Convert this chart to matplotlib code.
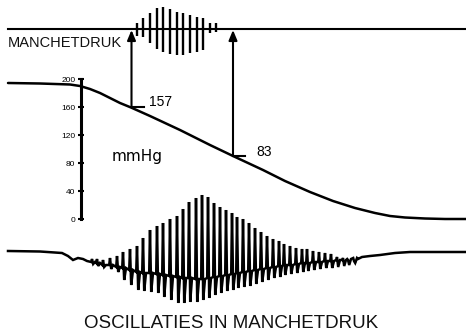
import matplotlib.pyplot as plt

# everything is in picture units: x to the right, y downwards (0..466, 0..331)

# cuff pressure line and the small oscillations drawn on it
cuff_y = 29
cuff_x = [8, 466]
cuff_osc_x = [137, 143, 150, 157, 163, 170, 177, 183, 190, 197, 203, 210, 216]
cuff_osc_hi = [23, 18, 13, 8, 7, 9, 12, 13, 15, 17, 18, 23, 23]
cuff_osc_lo = [36, 37, 43, 49, 52, 54, 55, 55, 53, 52, 50, 33, 32]

# falling cuff pressure curve
pressure_x = [8, 40, 70, 80, 90, 100, 110, 120, 131, 150, 180, 210, 233, 263, 285,
              310, 333, 355, 375, 390, 405, 425, 445, 466]
pressure_y = [83, 83.5, 84.5, 86, 89, 93, 98, 103, 107.5, 116, 130, 145, 156, 170, 181,
              192, 201, 208, 213, 216, 217.5, 218.5, 219, 219]

# mmHg scale
scale_ticks = [0, 40, 80, 120, 160, 200]

# oscillation trace: flat lead-in, beats, flat tail
lead_x = [8, 40, 62, 68, 73, 78, 83, 87]
lead_y = [251, 251.5, 253, 256, 260, 258, 259, 261]
beat_x = [92, 97, 103, 110, 117, 123, 130, 137, 143, 150, 157, 163, 170, 177, 183,
          189, 196, 202, 208, 214, 220, 226, 232, 237, 243, 249, 255, 261, 267, 273,
          279, 284, 290, 296, 302, 307, 313, 319, 325, 331, 337, 343, 348, 354]
beat_top = [259, 259, 260, 258, 256, 252, 249, 246, 238, 230, 226, 223, 219, 216, 209,
            202, 198, 195, 197, 203, 207, 210, 213, 217, 219, 223, 228, 232, 236, 239,
            241, 244, 246, 248, 249, 249, 251, 252, 253, 254, 257, 258, 260, 261]
beat_bottom = [264, 266, 267, 269, 272, 280, 285, 290, 291, 292, 293, 297, 300, 303, 303,
               302, 302, 300, 298, 295, 293, 291, 290, 288, 287, 286, 284, 282, 280, 278,
               277, 275, 274, 273, 272, 271, 270, 269, 268, 268, 267, 266, 265, 263]
beat_mid = [262, 263, 265, 265, 267, 268, 270, 272, 273, 273, 274, 275, 276, 277, 278,
            278, 279, 279, 278, 277, 276, 275, 274, 273, 272, 271, 270, 269, 268, 267,
            266, 265, 265, 264, 263, 263, 262, 262, 261, 261, 260, 260, 259, 258]
tail_x = [358, 362, 370, 380, 395, 410, 466]
tail_y = [259, 257, 256, 255, 253, 252, 252]

# systolic / diastolic read points
bp_labels = ['157', '83']
bp_x = [131.5, 233]
bp_y = [107, 156]

fig = plt.figure(figsize=(4.66, 3.31), dpi=100)
ax = fig.add_axes([0, 0, 1, 1])
ax.set_xlim(0, 466)
ax.set_ylim(331, 0)
ax.axis('off')

# cuff line + oscillations
ax.plot(cuff_x, [cuff_y, cuff_y], color='black', lw=1.5)
ax.vlines(cuff_osc_x, cuff_osc_hi, cuff_osc_lo, color='black', lw=1.7)
ax.text(8, 47, 'MANCHETDRUK', fontsize=10.5, family='Liberation Sans',
        ha='left', va='baseline', color='#111111')

# pressure curve
ax.plot(pressure_x, pressure_y, color='black', lw=1.8, solid_capstyle='round')

# arrows from the read points to the cuff line
for lab, x, y in zip(bp_labels, bp_x, bp_y):
    ax.annotate('', xy=(x, cuff_y + 1), xytext=(x, y),
                arrowprops=dict(arrowstyle='-|>,head_length=0.6,head_width=0.25',
                                color='black', lw=1.5, shrinkA=0, shrinkB=0,
                                mutation_scale=10))
    ax.plot([x, x + 12], [y, y], color='black', lw=1.5)
ax.text(149, 106, bp_labels[0], fontsize=10, family='Liberation Sans',
        ha='left', va='baseline')
ax.text(256, 156, bp_labels[1], fontsize=10, family='Liberation Sans',
        ha='left', va='baseline')

ax.text(112, 161, 'mmHg', fontsize=11, family='DejaVu Sans',
        ha='left', va='baseline')

# oscillation trace
osc_x = list(lead_x)
osc_y = list(lead_y)
for x, t, b, m in zip(beat_x, beat_top, beat_bottom, beat_mid):
    osc_x += [x - 0.8, x, x + 1.2, x + 3]
    osc_y += [m, t, b, m]
osc_x += tail_x
osc_y += tail_y
ax.plot(osc_x, osc_y, color='black', lw=1.8, solid_joinstyle='miter')

ax.text(231, 328, 'OSCILLATIES IN MANCHETDRUK', fontsize=13.5,
        family='Liberation Sans', ha='center', va='baseline', color='#111111')

# mmHg scale as a real axis
sax = fig.add_axes([80.5 / 466, (331 - 219) / 331, 0.02, 140 / 331])
sax.set_ylim(0, 200)
sax.set_yticks(scale_ticks)
sax.set_xticks([])
sax.patch.set_visible(False)
for side in ['top', 'right', 'bottom']:
    sax.spines[side].set_visible(False)
sax.spines['left'].set_linewidth(2.2)
sax.tick_params(axis='y', direction='inout', length=4.5, width=1.5,
                labelsize=6, pad=1.5)
for t in sax.get_yticklabels():
    t.set_family('Liberation Sans')

fig.savefig('out.png', dpi=100)
